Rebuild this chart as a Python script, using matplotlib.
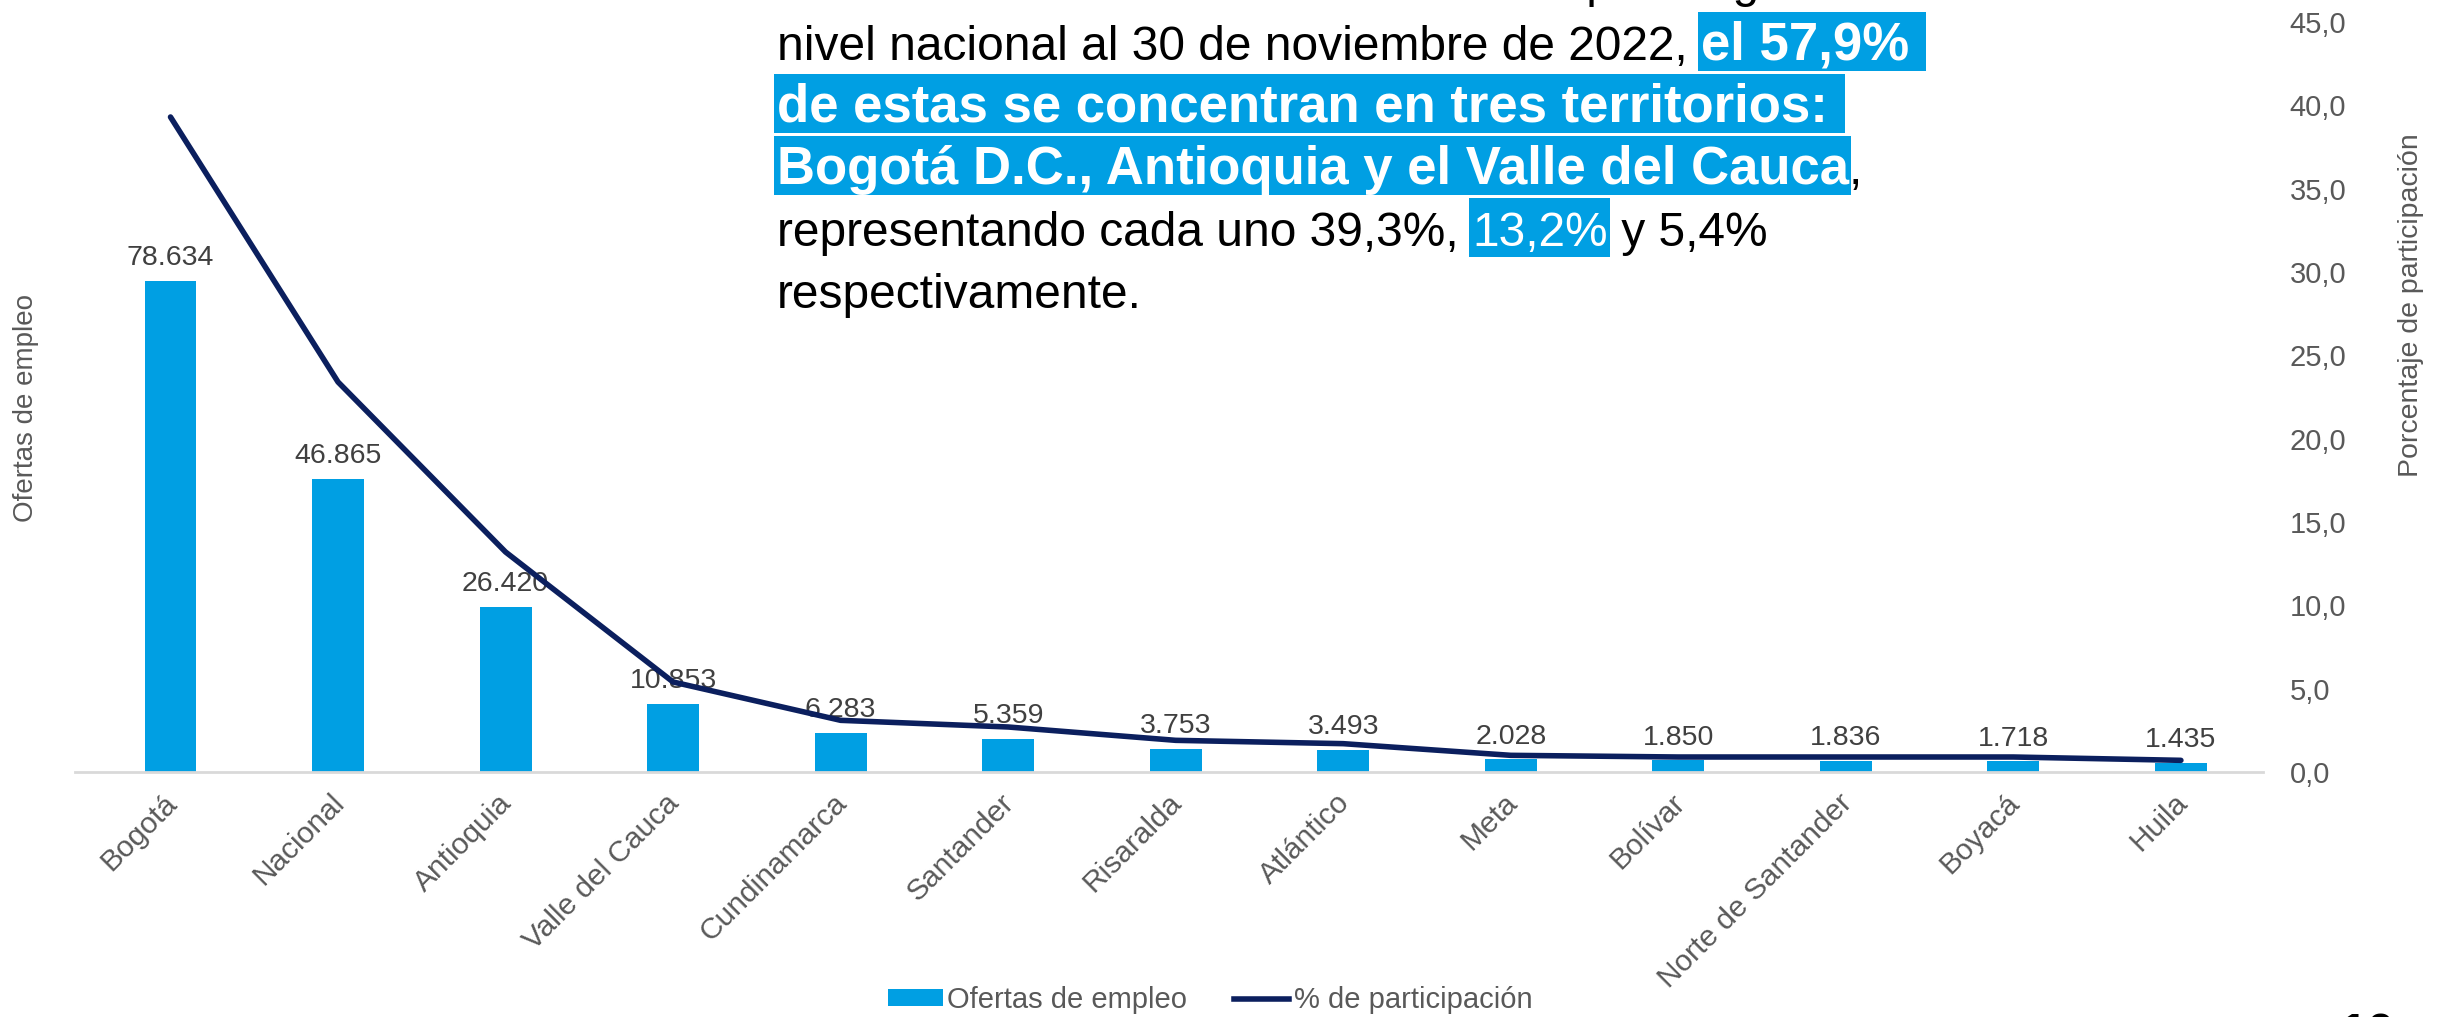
import numpy as np
import matplotlib.pyplot as plt
from matplotlib.patches import Rectangle, Patch
from matplotlib.lines import Line2D
from matplotlib.transforms import ScaledTranslation

plt.rcParams['font.family'] = ['Liberation Sans', 'DejaVu Sans']

# datos
territorios = ['Bogotá', 'Nacional', 'Antioquia', 'Valle del Cauca', 'Cundinamarca',
               'Santander', 'Risaralda', 'Atlántico', 'Meta', 'Bolívar',
               'Norte de Santander', 'Boyacá', 'Huila']
ofertas = [78634, 46865, 26420, 10853, 6283, 5359, 3753, 3493, 2028, 1850, 1836, 1718, 1435]
participacion = [39.3, 23.4, 13.2, 5.4, 3.1, 2.7, 1.9, 1.7, 1.0, 0.9, 0.9, 0.9, 0.7]
pct_ticks = [0, 5, 10, 15, 20, 25, 30, 35, 40, 45]

BAR_COLOR = '#009FE3'
LINE_COLOR = '#0B1F5E'
GRAY = '#595959'

W, H = 2440, 1017
fig = plt.figure(figsize=(W / 100, H / 100), dpi=100)
ax = fig.add_axes([75 / W, 1 - 772 / H, (2263 - 75) / W, 750 / H])
ax2 = ax.twinx()

x = np.arange(len(territorios))
ax.bar(x, ofertas, width=0.31, color=BAR_COLOR, zorder=2)
for xi, v in zip(x, ofertas):
    ax.annotate(f"{v:,}".replace(',', '.'), (xi, v), xytext=(0, 7),
                textcoords='offset points', ha='center', va='bottom',
                fontsize=20.5, color='#404040')

ax.set_ylim(0, 120000)
ax.set_xlim(-0.57, 12.49)
ax.set_yticks([])
ax.set_xticks(x)
ax.set_xticklabels(territorios, rotation=45, ha='right', va='top',
                   rotation_mode='anchor', fontsize=21.5, color=GRAY)
ax.tick_params(axis='x', length=0, pad=12)
shift = ScaledTranslation(-0.08, 0, fig.dpi_scale_trans)
for lab in ax.get_xticklabels():
    lab.set_transform(lab.get_transform() + shift)
for s in ['top', 'left', 'right']:
    ax.spines[s].set_visible(False)
ax.spines['bottom'].set_color('#D9D9D9')
ax.spines['bottom'].set_linewidth(2)

ax2.plot(x, participacion, color=LINE_COLOR, lw=4, solid_capstyle='round', zorder=5)
ax2.set_ylim(0, 45)
ax2.set_yticks(pct_ticks)
ax2.set_yticklabels([f"{t:.1f}".replace('.', ',') for t in pct_ticks],
                    fontsize=21, color=GRAY)
ax2.tick_params(axis='y', length=0, pad=19)
for s in ['top', 'left', 'right', 'bottom']:
    ax2.spines[s].set_visible(False)

fig.text(26 / W, 1 - 408 / H, 'Ofertas de empleo', rotation=90, ha='center',
         va='center', fontsize=20, color=GRAY)
fig.text(2411 / W, 1 - 305 / H, 'Porcentaje de participación', rotation=90,
         ha='center', va='center', fontsize=20.5, color=GRAY)

handles = [Patch(facecolor=BAR_COLOR, edgecolor='none'),
           Line2D([0], [0], color=LINE_COLOR, lw=4)]
fig.legend(handles, ['Ofertas de empleo', '% de participación'], loc='center',
           bbox_to_anchor=(1210 / W, 17 / H), ncol=2, frameon=False, fontsize=21,
           labelcolor=GRAY, handlelength=1.9, handleheight=0.5,
           handletextpad=0.15, columnspacing=1.6)

# recuadro de texto superpuesto
renderer = fig.canvas.get_renderer()
FS = 34.5
FS_BOLD = 38


def text_width(s, weight, size):
    t1 = fig.text(0, 0, s + '|', fontsize=size, fontweight=weight)
    t2 = fig.text(0, 0, '|', fontsize=size, fontweight=weight)
    w = t1.get_window_extent(renderer).width - t2.get_window_extent(renderer).width
    t1.remove()
    t2.remove()
    return w


def draw_line(segments, x0, base):
    xp = x0
    y = H - base
    for s, style in segments:
        weight = 'bold' if style == 'b' else 'normal'
        size = FS_BOLD if style == 'b' else FS
        color = 'black' if style == 'n' else 'white'
        w = text_width(s, weight, size)
        if style != 'n':
            fig.patches.append(Rectangle(((xp - 3) / W, (y - 11) / H), (w + 5) / W, 59 / H,
                                         transform=fig.transFigure,
                                         facecolor=BAR_COLOR, edgecolor='none',
                                         zorder=8))
        fig.text(xp / W, y / H, s, fontsize=size, fontweight=weight, color=color,
                 va='baseline', ha='left', zorder=9)
        xp += w


X0 = 777
draw_line([('Del total de las 200.087 ofertas de empleo registradas a', 'n')], X0, -3)
draw_line([('nivel nacional al 30 de noviembre de 2022, ', 'n'), ('el 57,9% ', 'b')], X0, 60)
draw_line([('de estas se concentran en tres territorios: ', 'b')], X0, 122)
draw_line([('Bogotá D.C., Antioquia y el Valle del Cauca', 'b'), (',', 'n')], X0, 184)
draw_line([('representando cada uno 39,3%, ', 'n'), ('13,2%', 'h'), (' y 5,4%', 'n')], X0, 246)
draw_line([('respectivamente.', 'n')], X0, 308)

fig.text(2340 / W, 1 - 1013 / H, '10', fontsize=36, fontweight='bold',
         color='black', ha='left', va='top')

fig.savefig('out.png', dpi=100)
